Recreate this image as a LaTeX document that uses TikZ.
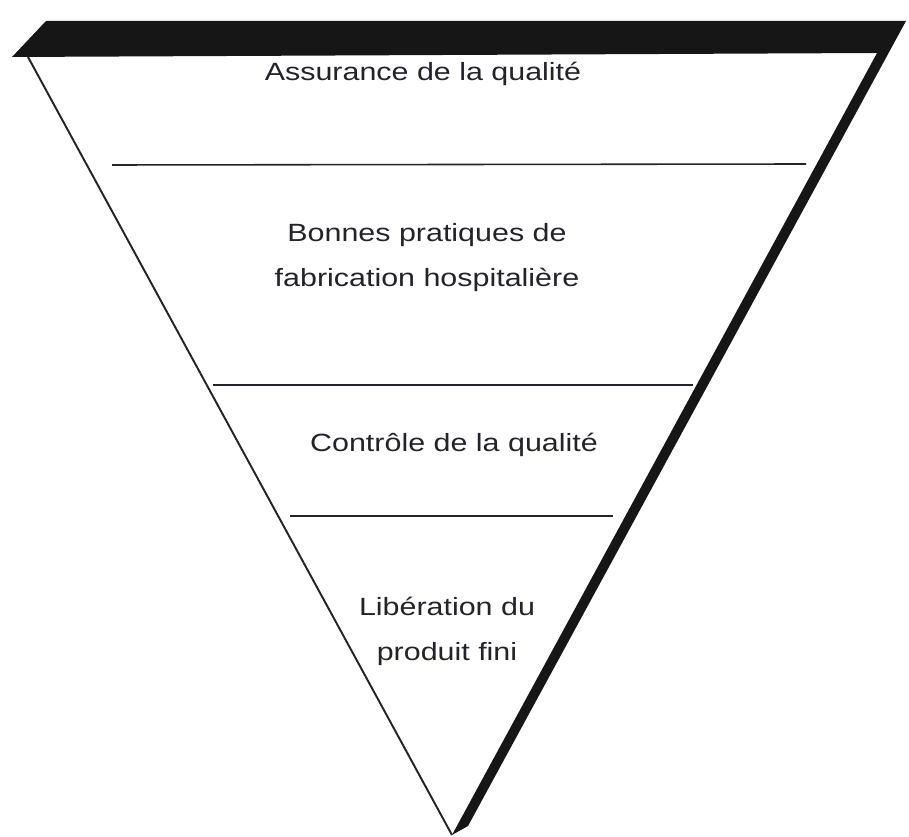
\documentclass[tikz,border=0pt]{standalone}
\usepackage{fontspec}
\usepackage{xcolor}
\newfontfamily\arialfont{Liberation Sans}[FakeStretch=1.22]
\definecolor{platecol}{HTML}{161616}
\definecolor{inkcol}{HTML}{24232B}

\tikzset{txt/.style={font=\arialfont\fontsize{14.2}{25.6}\selectfont, text=inkcol, align=center, inner sep=0pt}}

\begin{document}
\begin{tikzpicture}[x=0.02cm,y=-0.02cm]
\useasboundingbox (0,0) rectangle (909,837);
% plate (top and right side)
\fill[platecol] (12,57) -- (46,21) -- (906,21) -- (468,826) -- (452,835) -- (877,53) -- cycle;
% left side
\draw[line width=1.1pt, inkcol]  (28,57)-- (452,835);
% levels
\draw[line width=0.9pt, inkcol]  (112,165)-- (806,164);
\draw[line width=0.9pt, inkcol]  (213,385)-- (693,385);
\draw[line width=0.9pt, inkcol]  (290,516)-- (613,516);

\node[txt, anchor=base] (assur) at (423,81) {Assurance de la qualité};
\node[txt] (bpfh) at (427,258) {Bonnes pratiques de\\fabrication hospitalière};
\node[txt, anchor=base] (controle) at (454,452) {Contrôle de la qualité};
\node[txt] (liber) at (447,631) {Libération du\\produit fini};
\end{tikzpicture}
\end{document}
